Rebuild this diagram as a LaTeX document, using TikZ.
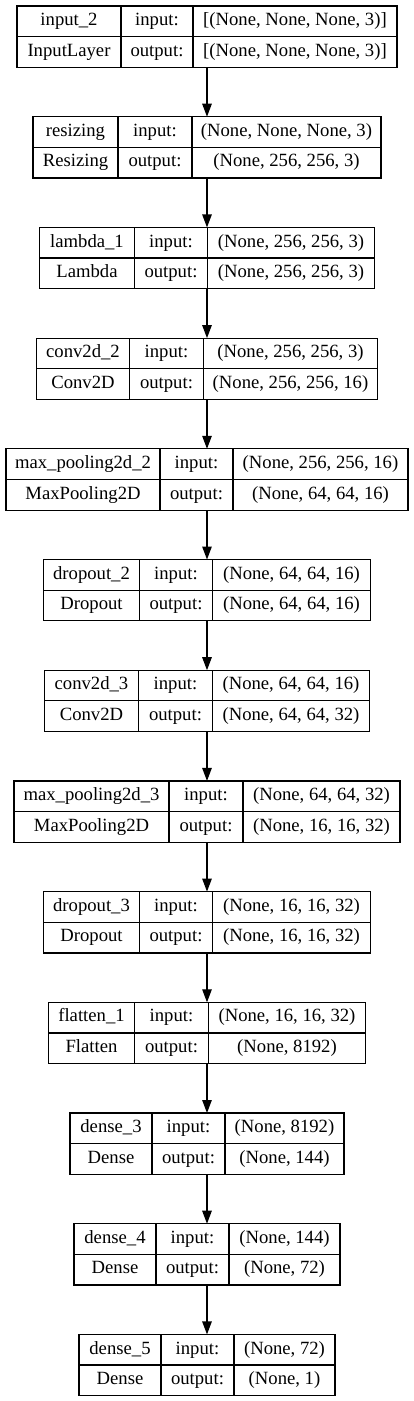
\documentclass[tikz,border=0pt]{standalone}
\usepackage{fontspec}
\setmainfont{Liberation Serif}
\usepackage{tikz}
\usetikzlibrary{arrows.meta, positioning}

\begin{document}
\begin{tikzpicture}[
    x=1pt, y=1pt,
    node distance=49.4pt,
    layer/.style={rectangle, draw, line width=1.2pt, inner sep=0pt, outer sep=0pt, minimum height=61.3pt},
    cell/.style={rectangle, draw, line width=1.2pt, inner sep=0pt, outer sep=0pt, minimum height=30.65pt, text height=12.8pt, text depth=4.2pt, font=\fontsize{18.67pt}{22pt}\selectfont},
    arrow/.style={-{Triangle[length=13pt, width=9.5pt]}, line width=1.2pt, color=black}
]
    \useasboundingbox (0,0) rectangle (413,-1401);

    % --- Layer Frames ---
    \node[layer, minimum width=380pt] (input2) at (207,-36.65) {};
    \node[layer, minimum width=348pt, below=of input2] (resizing) {};
    \node[layer, minimum width=335pt, below=of resizing] (lambda1) {};
    \node[layer, minimum width=341pt, below=of lambda1] (conv2) {};
    \node[layer, minimum width=402pt, below=of conv2] (pool2) {};
    \node[layer, minimum width=327pt, below=of pool2] (drop2) {};
    \node[layer, minimum width=325pt, below=of drop2] (conv3) {};
    \node[layer, minimum width=386pt, below=of conv3] (pool3) {};
    \node[layer, minimum width=327pt, below=of pool3] (drop3) {};
    \node[layer, minimum width=317pt, below=of drop3] (flatten1) {};
    \node[layer, minimum width=274pt, below=of flatten1] (dense3) {};
    \node[layer, minimum width=266pt, below=of dense3] (dense4) {};
    \node[layer, minimum width=256pt, below=of dense4] (dense5) {};

    % --- input_2 ---
    \node[cell, minimum width=104pt, anchor=north west] (in_a) at (input2.north west) {input\_2};
    \node[cell, minimum width=72pt, right=0pt of in_a] (in_b) {input:};
    \node[cell, minimum width=204pt, right=0pt of in_b] (in_c) {[(None, None, None, 3)]};
    \node[cell, minimum width=104pt, below=0pt of in_a] (in_d) {InputLayer};
    \node[cell, minimum width=72pt, below=0pt of in_b] (in_e) {output:};
    \node[cell, minimum width=204pt, below=0pt of in_c] (in_f) {[(None, None, None, 3)]};

    % --- resizing ---
    \node[cell, minimum width=85pt, anchor=north west] (rs_a) at (resizing.north west) {resizing};
    \node[cell, minimum width=74pt, right=0pt of rs_a] (rs_b) {input:};
    \node[cell, minimum width=189pt, right=0pt of rs_b] (rs_c) {(None, None, None, 3)};
    \node[cell, minimum width=85pt, below=0pt of rs_a] (rs_d) {Resizing};
    \node[cell, minimum width=74pt, below=0pt of rs_b] (rs_e) {output:};
    \node[cell, minimum width=189pt, below=0pt of rs_c] (rs_f) {(None, 256, 256, 3)};

    % --- lambda_1 ---
    \node[cell, minimum width=95pt, anchor=north west] (lm_a) at (lambda1.north west) {lambda\_1};
    \node[cell, minimum width=73pt, right=0pt of lm_a] (lm_b) {input:};
    \node[cell, minimum width=167pt, right=0pt of lm_b] (lm_c) {(None, 256, 256, 3)};
    \node[cell, minimum width=95pt, below=0pt of lm_a] (lm_d) {Lambda};
    \node[cell, minimum width=73pt, below=0pt of lm_b] (lm_e) {output:};
    \node[cell, minimum width=167pt, below=0pt of lm_c] (lm_f) {(None, 256, 256, 3)};

    % --- conv2d_2 ---
    \node[cell, minimum width=93pt, anchor=north west] (c2_a) at (conv2.north west) {conv2d\_2};
    \node[cell, minimum width=74pt, right=0pt of c2_a] (c2_b) {input:};
    \node[cell, minimum width=174pt, right=0pt of c2_b] (c2_c) {(None, 256, 256, 3)};
    \node[cell, minimum width=93pt, below=0pt of c2_a] (c2_d) {Conv2D};
    \node[cell, minimum width=74pt, below=0pt of c2_b] (c2_e) {output:};
    \node[cell, minimum width=174pt, below=0pt of c2_c] (c2_f) {(None, 256, 256, 16)};

    % --- max_pooling2d_2 ---
    \node[cell, minimum width=154pt, anchor=north west] (p2_a) at (pool2.north west) {max\_pooling2d\_2};
    \node[cell, minimum width=73pt, right=0pt of p2_a] (p2_b) {input:};
    \node[cell, minimum width=175pt, right=0pt of p2_b] (p2_c) {(None, 256, 256, 16)};
    \node[cell, minimum width=154pt, below=0pt of p2_a] (p2_d) {MaxPooling2D};
    \node[cell, minimum width=73pt, below=0pt of p2_b] (p2_e) {output:};
    \node[cell, minimum width=175pt, below=0pt of p2_c] (p2_f) {(None, 64, 64, 16)};

    % --- dropout_2 ---
    \node[cell, minimum width=96pt, anchor=north west] (d2_a) at (drop2.north west) {dropout\_2};
    \node[cell, minimum width=73pt, right=0pt of d2_a] (d2_b) {input:};
    \node[cell, minimum width=158pt, right=0pt of d2_b] (d2_c) {(None, 64, 64, 16)};
    \node[cell, minimum width=96pt, below=0pt of d2_a] (d2_d) {Dropout};
    \node[cell, minimum width=73pt, below=0pt of d2_b] (d2_e) {output:};
    \node[cell, minimum width=158pt, below=0pt of d2_c] (d2_f) {(None, 64, 64, 16)};

    % --- conv2d_3 ---
    \node[cell, minimum width=94pt, anchor=north west] (c3_a) at (conv3.north west) {conv2d\_3};
    \node[cell, minimum width=74pt, right=0pt of c3_a] (c3_b) {input:};
    \node[cell, minimum width=157pt, right=0pt of c3_b] (c3_c) {(None, 64, 64, 16)};
    \node[cell, minimum width=94pt, below=0pt of c3_a] (c3_d) {Conv2D};
    \node[cell, minimum width=74pt, below=0pt of c3_b] (c3_e) {output:};
    \node[cell, minimum width=157pt, below=0pt of c3_c] (c3_f) {(None, 64, 64, 32)};

    % --- max_pooling2d_3 ---
    \node[cell, minimum width=155pt, anchor=north west] (p3_a) at (pool3.north west) {max\_pooling2d\_3};
    \node[cell, minimum width=74pt, right=0pt of p3_a] (p3_b) {input:};
    \node[cell, minimum width=157pt, right=0pt of p3_b] (p3_c) {(None, 64, 64, 32)};
    \node[cell, minimum width=155pt, below=0pt of p3_a] (p3_d) {MaxPooling2D};
    \node[cell, minimum width=74pt, below=0pt of p3_b] (p3_e) {output:};
    \node[cell, minimum width=157pt, below=0pt of p3_c] (p3_f) {(None, 16, 16, 32)};

    % --- dropout_3 ---
    \node[cell, minimum width=96pt, anchor=north west] (d3_a) at (drop3.north west) {dropout\_3};
    \node[cell, minimum width=73pt, right=0pt of d3_a] (d3_b) {input:};
    \node[cell, minimum width=158pt, right=0pt of d3_b] (d3_c) {(None, 16, 16, 32)};
    \node[cell, minimum width=96pt, below=0pt of d3_a] (d3_d) {Dropout};
    \node[cell, minimum width=73pt, below=0pt of d3_b] (d3_e) {output:};
    \node[cell, minimum width=158pt, below=0pt of d3_c] (d3_f) {(None, 16, 16, 32)};

    % --- flatten_1 ---
    \node[cell, minimum width=86pt, anchor=north west] (fl_a) at (flatten1.north west) {flatten\_1};
    \node[cell, minimum width=74pt, right=0pt of fl_a] (fl_b) {input:};
    \node[cell, minimum width=157pt, right=0pt of fl_b] (fl_c) {(None, 16, 16, 32)};
    \node[cell, minimum width=86pt, below=0pt of fl_a] (fl_d) {Flatten};
    \node[cell, minimum width=74pt, below=0pt of fl_b] (fl_e) {output:};
    \node[cell, minimum width=157pt, below=0pt of fl_c] (fl_f) {(None, 8192)};

    % --- dense_3 ---
    \node[cell, minimum width=82pt, anchor=north west] (e3_a) at (dense3.north west) {dense\_3};
    \node[cell, minimum width=73pt, right=0pt of e3_a] (e3_b) {input:};
    \node[cell, minimum width=119pt, right=0pt of e3_b] (e3_c) {(None, 8192)};
    \node[cell, minimum width=82pt, below=0pt of e3_a] (e3_d) {Dense};
    \node[cell, minimum width=73pt, below=0pt of e3_b] (e3_e) {output:};
    \node[cell, minimum width=119pt, below=0pt of e3_c] (e3_f) {(None, 144)};

    % --- dense_4 ---
    \node[cell, minimum width=82pt, anchor=north west] (e4_a) at (dense4.north west) {dense\_4};
    \node[cell, minimum width=73pt, right=0pt of e4_a] (e4_b) {input:};
    \node[cell, minimum width=111pt, right=0pt of e4_b] (e4_c) {(None, 144)};
    \node[cell, minimum width=82pt, below=0pt of e4_a] (e4_d) {Dense};
    \node[cell, minimum width=73pt, below=0pt of e4_b] (e4_e) {output:};
    \node[cell, minimum width=111pt, below=0pt of e4_c] (e4_f) {(None, 72)};

    % --- dense_5 ---
    \node[cell, minimum width=82pt, anchor=north west] (e5_a) at (dense5.north west) {dense\_5};
    \node[cell, minimum width=73pt, right=0pt of e5_a] (e5_b) {input:};
    \node[cell, minimum width=101pt, right=0pt of e5_b] (e5_c) {(None, 72)};
    \node[cell, minimum width=82pt, below=0pt of e5_a] (e5_d) {Dense};
    \node[cell, minimum width=73pt, below=0pt of e5_b] (e5_e) {output:};
    \node[cell, minimum width=101pt, below=0pt of e5_c] (e5_f) {(None, 1)};

    % --- Flow Arrows ---
    \draw[arrow] (input2) -- (resizing);
    \draw[arrow] (resizing) -- (lambda1);
    \draw[arrow] (lambda1) -- (conv2);
    \draw[arrow] (conv2) -- (pool2);
    \draw[arrow] (pool2) -- (drop2);
    \draw[arrow] (drop2) -- (conv3);
    \draw[arrow] (conv3) -- (pool3);
    \draw[arrow] (pool3) -- (drop3);
    \draw[arrow] (drop3) -- (flatten1);
    \draw[arrow] (flatten1) -- (dense3);
    \draw[arrow] (dense3) -- (dense4);
    \draw[arrow] (dense4) -- (dense5);

\end{tikzpicture}
\end{document}
